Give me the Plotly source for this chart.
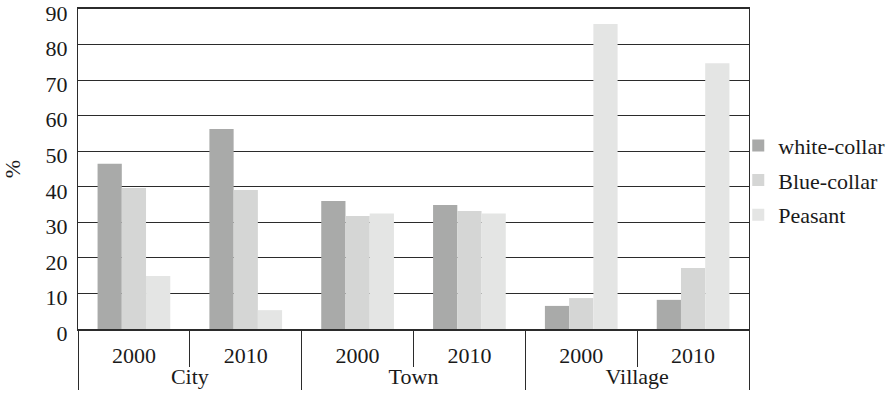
import plotly.graph_objects as go

# Settlement type and survey year for each bar cluster
places = ["City", "City", "Town", "Town", "Village", "Village"]
years = ["2000", "2010", "2000", "2010", "2000", "2010"]

# Share of each occupation group, %
white_collar = [46.5, 56.3, 36.0, 34.9, 6.5, 8.2]
blue_collar = [39.7, 39.1, 31.8, 33.2, 8.7, 17.2]
peasant = [14.9, 5.3, 32.5, 32.5, 85.8, 74.8]

series = [
    ("white-collar", white_collar, "#a9aaa9"),
    ("Blue-collar", blue_collar, "#d5d6d5"),
    ("Peasant", peasant, "#e4e5e4"),
]

y_ticks = list(range(0, 91, 10))

font_family = "Liberation Serif"
ink = "#2b2b2b"
text_color = "#1a1a1a"

fig = go.Figure()
for i, (name, vals, color) in enumerate(series):
    fig.add_trace(go.Bar(
        x=[places, years],
        y=vals,
        name=name,
        marker=dict(color=color, line=dict(width=0)),
        legendgroup=f"g{i}",
    ))

fig.update_layout(
    width=895,
    height=406,
    margin=dict(l=78, r=146, t=9, b=77, autoexpand=False),
    paper_bgcolor="white",
    plot_bgcolor="white",
    barmode="group",
    bargap=0.35,
    bargroupgap=0,
    font=dict(family=font_family, size=22, color=text_color),
    showlegend=True,
    legend=dict(
        x=0.984, xanchor="left",
        y=0.465, yanchor="middle",
        traceorder="grouped",
        tracegroupgap=3,
        font=dict(family=font_family, size=22, color=text_color),
        itemwidth=30,
        bgcolor="rgba(0,0,0,0)",
    ),
)

fig.update_xaxes(
    type="multicategory",
    automargin=False,
    showline=True,
    linecolor=ink,
    linewidth=1.5,
    mirror=True,
    showgrid=False,
    ticks="outside",
    tickson="boundaries",
    ticklen=36,
    tickcolor=ink,
    tickwidth=1.2,
    showdividers=True,
    dividercolor=ink,
    dividerwidth=1.2,
    ticklabelstandoff=6,
    tickfont=dict(family=font_family, size=22, color=text_color),
)

fig.update_yaxes(
    range=[0, 90.05],
    automargin=False,
    tickvals=y_ticks,
    showline=True,
    linecolor=ink,
    linewidth=1.2,
    mirror=True,
    showgrid=True,
    gridcolor=ink,
    gridwidth=1.3,
    zeroline=False,
    ticks="",
    ticklabeloverflow="allow",
    ticklabelstandoff=5,
    ticklabelshift=4,
    tickfont=dict(family=font_family, size=22, color=text_color),
    title=dict(text="%", font=dict(family=font_family, size=22, color=text_color), standoff=20),
)

fig.write_html("out.html")
